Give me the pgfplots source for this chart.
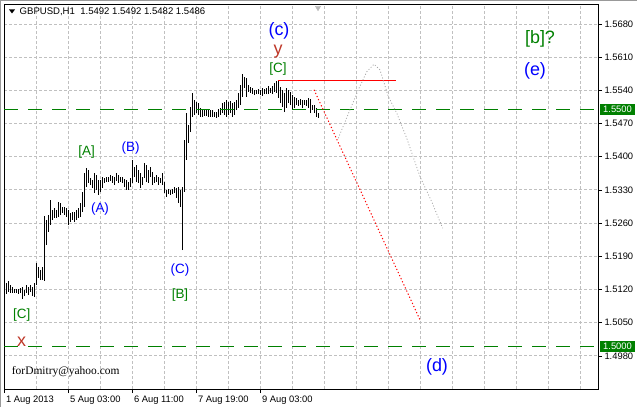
\documentclass[border=0pt]{standalone}
\usepackage{fontspec}
\setmainfont{Liberation Sans}
\newfontfamily\serif{Liberation Serif}
\usepackage{pgfplots}
\usepackage{pgfplotstable}
\pgfplotsset{compat=1.18}
\definecolor{mtgreen}{RGB}{0,128,0}
\definecolor{mtblue}{RGB}{0,0,255}
\definecolor{mtbrown}{RGB}{190,55,40}
\definecolor{gridgray}{RGB}{192,192,192}

\pgfplotstableread{
x hi lo
1 1.5134 1.5111
2 1.5138 1.5115
3 1.5130 1.5113
4 1.5126 1.5113
5 1.5121 1.5113
6 1.5121 1.5113
7 1.5121 1.5111
8 1.5123 1.5113
9 1.5126 1.5100
10 1.5119 1.5106
11 1.5130 1.5113
12 1.5126 1.5109
13 1.5130 1.5115
14 1.5126 1.5106
15 1.5134 1.5104
16 1.5176 1.5130
17 1.5168 1.5145
18 1.5161 1.5140
19 1.5168 1.5140
20 1.5275 1.5138
21 1.5267 1.5214
22 1.5277 1.5242
23 1.5309 1.5256
24 1.5288 1.5267
25 1.5292 1.5271
26 1.5288 1.5271
27 1.5305 1.5273
28 1.5303 1.5277
29 1.5294 1.5282
30 1.5294 1.5277
31 1.5292 1.5273
32 1.5288 1.5256
33 1.5282 1.5262
34 1.5284 1.5267
35 1.5284 1.5262
36 1.5288 1.5267
37 1.5292 1.5271
38 1.5303 1.5273
39 1.5326 1.5284
40 1.5366 1.5294
41 1.5376 1.5336
42 1.5372 1.5345
43 1.5355 1.5341
44 1.5351 1.5334
45 1.5366 1.5324
46 1.5362 1.5330
47 1.5351 1.5320
48 1.5351 1.5326
49 1.5357 1.5334
50 1.5355 1.5345
51 1.5357 1.5347
52 1.5357 1.5347
53 1.5362 1.5349
54 1.5360 1.5345
55 1.5357 1.5341
56 1.5366 1.5349
57 1.5362 1.5345
58 1.5357 1.5347
59 1.5357 1.5345
60 1.5353 1.5336
61 1.5351 1.5330
62 1.5347 1.5330
63 1.5355 1.5336
64 1.5393 1.5345
65 1.5378 1.5357
66 1.5383 1.5347
67 1.5372 1.5345
68 1.5366 1.5334
69 1.5357 1.5341
70 1.5387 1.5355
71 1.5383 1.5347
72 1.5372 1.5345
73 1.5378 1.5357
74 1.5368 1.5341
75 1.5357 1.5345
76 1.5362 1.5347
77 1.5357 1.5341
78 1.5355 1.5345
79 1.5366 1.5341
80 1.5347 1.5324
81 1.5330 1.5315
82 1.5332 1.5322
83 1.5330 1.5320
84 1.5332 1.5322
85 1.5336 1.5324
86 1.5334 1.5313
87 1.5336 1.5303
88 1.5330 1.5294
89 1.5336 1.5203
90 1.5435 1.5326
91 1.5492 1.5393
92 1.5467 1.5429
93 1.5505 1.5452
94 1.5535 1.5484
95 1.5520 1.5488
96 1.5516 1.5492
97 1.5513 1.5488
98 1.5503 1.5484
99 1.5499 1.5484
100 1.5499 1.5486
101 1.5501 1.5486
102 1.5501 1.5484
103 1.5499 1.5484
104 1.5499 1.5484
105 1.5494 1.5484
106 1.5494 1.5482
107 1.5501 1.5484
108 1.5503 1.5488
109 1.5513 1.5492
110 1.5516 1.5488
111 1.5520 1.5484
112 1.5516 1.5488
113 1.5518 1.5492
114 1.5513 1.5484
115 1.5516 1.5488
116 1.5520 1.5499
117 1.5535 1.5503
118 1.5551 1.5509
119 1.5575 1.5526
120 1.5568 1.5545
121 1.5566 1.5526
122 1.5551 1.5537
123 1.5547 1.5535
124 1.5545 1.5532
125 1.5541 1.5530
126 1.5541 1.5532
127 1.5543 1.5532
128 1.5541 1.5530
129 1.5545 1.5528
130 1.5543 1.5532
131 1.5545 1.5532
132 1.5549 1.5532
133 1.5545 1.5535
134 1.5549 1.5532
135 1.5556 1.5537
136 1.5560 1.5535
137 1.5560 1.5524
138 1.5547 1.5513
139 1.5541 1.5505
140 1.5535 1.5494
141 1.5545 1.5503
142 1.5541 1.5513
143 1.5537 1.5509
144 1.5530 1.5499
145 1.5526 1.5503
146 1.5524 1.5509
147 1.5520 1.5507
148 1.5522 1.5509
149 1.5520 1.5503
150 1.5520 1.5509
151 1.5520 1.5507
152 1.5524 1.5503
153 1.5522 1.5492
154 1.5509 1.5499
155 1.5509 1.5492
156 1.5503 1.5484
157 1.5492 1.5482
}\bars

\begin{document}
\begin{tikzpicture}
\useasboundingbox (0,0) rectangle (637bp,407bp);
\draw[gray!80, line width=1.5bp] (0,407bp) -- (637bp,407bp);
\draw[gray!80, line width=1.5bp] (0,0) -- (0,407bp);
\begin{axis}[
  at={(4bp,18bp)}, anchor=south west,
  scale only axis, width=594bp, height=385bp,
  xmin=0, xmax=297, ymin=1.4910, ymax=1.5722,
  axis line style={black, line width=0.8bp},
  clip mode=individual,
  tick align=outside, major tick length=4bp, minor tick length=0pt,
  tick style={black, line width=0.6bp},
  xtick pos=left, ytick pos=right, yticklabel pos=right,
  xtick={0,32,64,96,128},
  xticklabels={1 Aug 2013,5 Aug 03:00,6 Aug 11:00,7 Aug 19:00,9 Aug 03:00},
  minor xtick={16,48,80,112,144,160,176,192,208,224,240,256,272,288},
  ytick={1.498,1.505,1.512,1.519,1.526,1.533,1.540,1.547,1.554,1.561,1.568},
  yticklabels={1.4980,1.5050,1.5120,1.5190,1.5260,1.5330,1.5400,1.5470,1.5540,1.5610,1.5680},
  ticklabel style={font=\fontsize{9.4}{10}\selectfont},
  xticklabel style={anchor=north west, xshift=-1.5bp, yshift=0.5bp},
  yticklabel style={anchor=west, xshift=-1bp},
  grid=both,
  major grid style={gridgray, dash pattern=on 3bp off 2bp, line width=0.8bp},
  minor grid style={gridgray, dash pattern=on 3bp off 2bp, line width=0.8bp},
]
% price bars (high-low)
\addplot[draw=none, mark=none, forget plot,
  error bars/.cd, y dir=plus, y explicit, error mark=none,
  error bar style={black, line width=0.9bp}]
  table[x=x, y=lo, y error plus expr=\thisrow{hi}-\thisrow{lo}] {\bars};
% horizontal levels
\addplot[mtgreen, line width=1.2bp, dash pattern=on 14bp off 10bp] coordinates {(0,1.55) (297,1.55)};
\addplot[mtgreen, line width=1.2bp, dash pattern=on 14bp off 10bp] coordinates {(0,1.50) (297,1.50)};
\addplot[red, line width=1bp] coordinates {(137,1.5561) (196,1.5561)};
\addplot[red, line width=1bp, dash pattern=on 1.2bp off 2.2bp] coordinates {(155,1.5541) (208,1.5056)};
\addplot[gray!70, line width=0.8bp, dash pattern=on 1bp off 2bp] coordinates {
  (167.15,1.5439) (173,1.5499) (177.15,1.5541) (181.35,1.5579) (185,1.5595)
  (188,1.5583) (192.15,1.5527) (196.35,1.5492) (201.35,1.5439) (208,1.5358)
  (213.85,1.5305) (219.35,1.5249)};
\addplot[only marks, mark=triangle*, mark size=3bp,
  mark options={rotate=180, fill=gray!55, draw=gray!55}] coordinates {(157,1.5714)};
% labels
\node[text=mtblue, font=\fontsize{18}{18}\selectfont] at (axis cs:137.5,1.5665) {(c)};
\node[text=mtbrown, font=\fontsize{18}{18}\selectfont] at (axis cs:137,1.5622) {y};
\node[text=mtgreen, font=\fontsize{13.5}{14}\selectfont] at (axis cs:137,1.5585) {[C]};
\node[text=mtgreen, font=\fontsize{13.5}{14}\selectfont] at (axis cs:41.3,1.5409) {[A]};
\node[text=mtblue, font=\fontsize{13.5}{14}\selectfont] at (axis cs:63.3,1.5418) {(B)};
\node[text=mtblue, font=\fontsize{13.5}{14}\selectfont] at (axis cs:48,1.5289) {(A)};
\node[text=mtblue, font=\fontsize{13.5}{14}\selectfont] at (axis cs:88,1.5161) {(C)};
\node[text=mtgreen, font=\fontsize{13.5}{14}\selectfont] at (axis cs:88,1.5109) {[B]};
\node[text=mtgreen, font=\fontsize{13.5}{14}\selectfont] at (axis cs:8.85,1.5067) {[C]};
\node[text=mtbrown, font=\fontsize{18}{18}\selectfont] at (axis cs:8.85,1.5009) {x};
\node[anchor=west, inner sep=0pt, font=\serif\fontsize{11.5}{12}\selectfont] at (axis cs:3.85,1.4947) {forDmitry@yahoo.com};
\node[text=mtgreen, font=\fontsize{18}{18}\selectfont] at (axis cs:268,1.5648) {[b]?};
\node[text=mtblue, font=\fontsize{18}{18}\selectfont] at (axis cs:265.5,1.5581) {(e)};
\node[text=mtblue, font=\fontsize{18}{18}\selectfont] at (axis cs:216.5,1.4957) {(d)};
\node[anchor=west, inner sep=0pt, font=\fontsize{9.6}{10}\selectfont] at (axis cs:7.75,1.5706) {GBPUSD,H1\ \ 1.5492 1.5492 1.5482 1.5486};
\node[fill=mtgreen, text=white, anchor=west, xshift=2bp, inner xsep=3bp, inner ysep=2bp, font=\fontsize{9.4}{10}\selectfont] at (axis cs:297,1.55) {1.5500};
\node[fill=mtgreen, text=white, anchor=west, xshift=2bp, inner xsep=3bp, inner ysep=2bp, font=\fontsize{9.4}{10}\selectfont] at (axis cs:297,1.50) {1.5000};
\end{axis}
\fill (9bp,397.5bp) -- (15bp,397.5bp) -- (12bp,393.5bp) -- cycle;
\end{tikzpicture}
\end{document}
